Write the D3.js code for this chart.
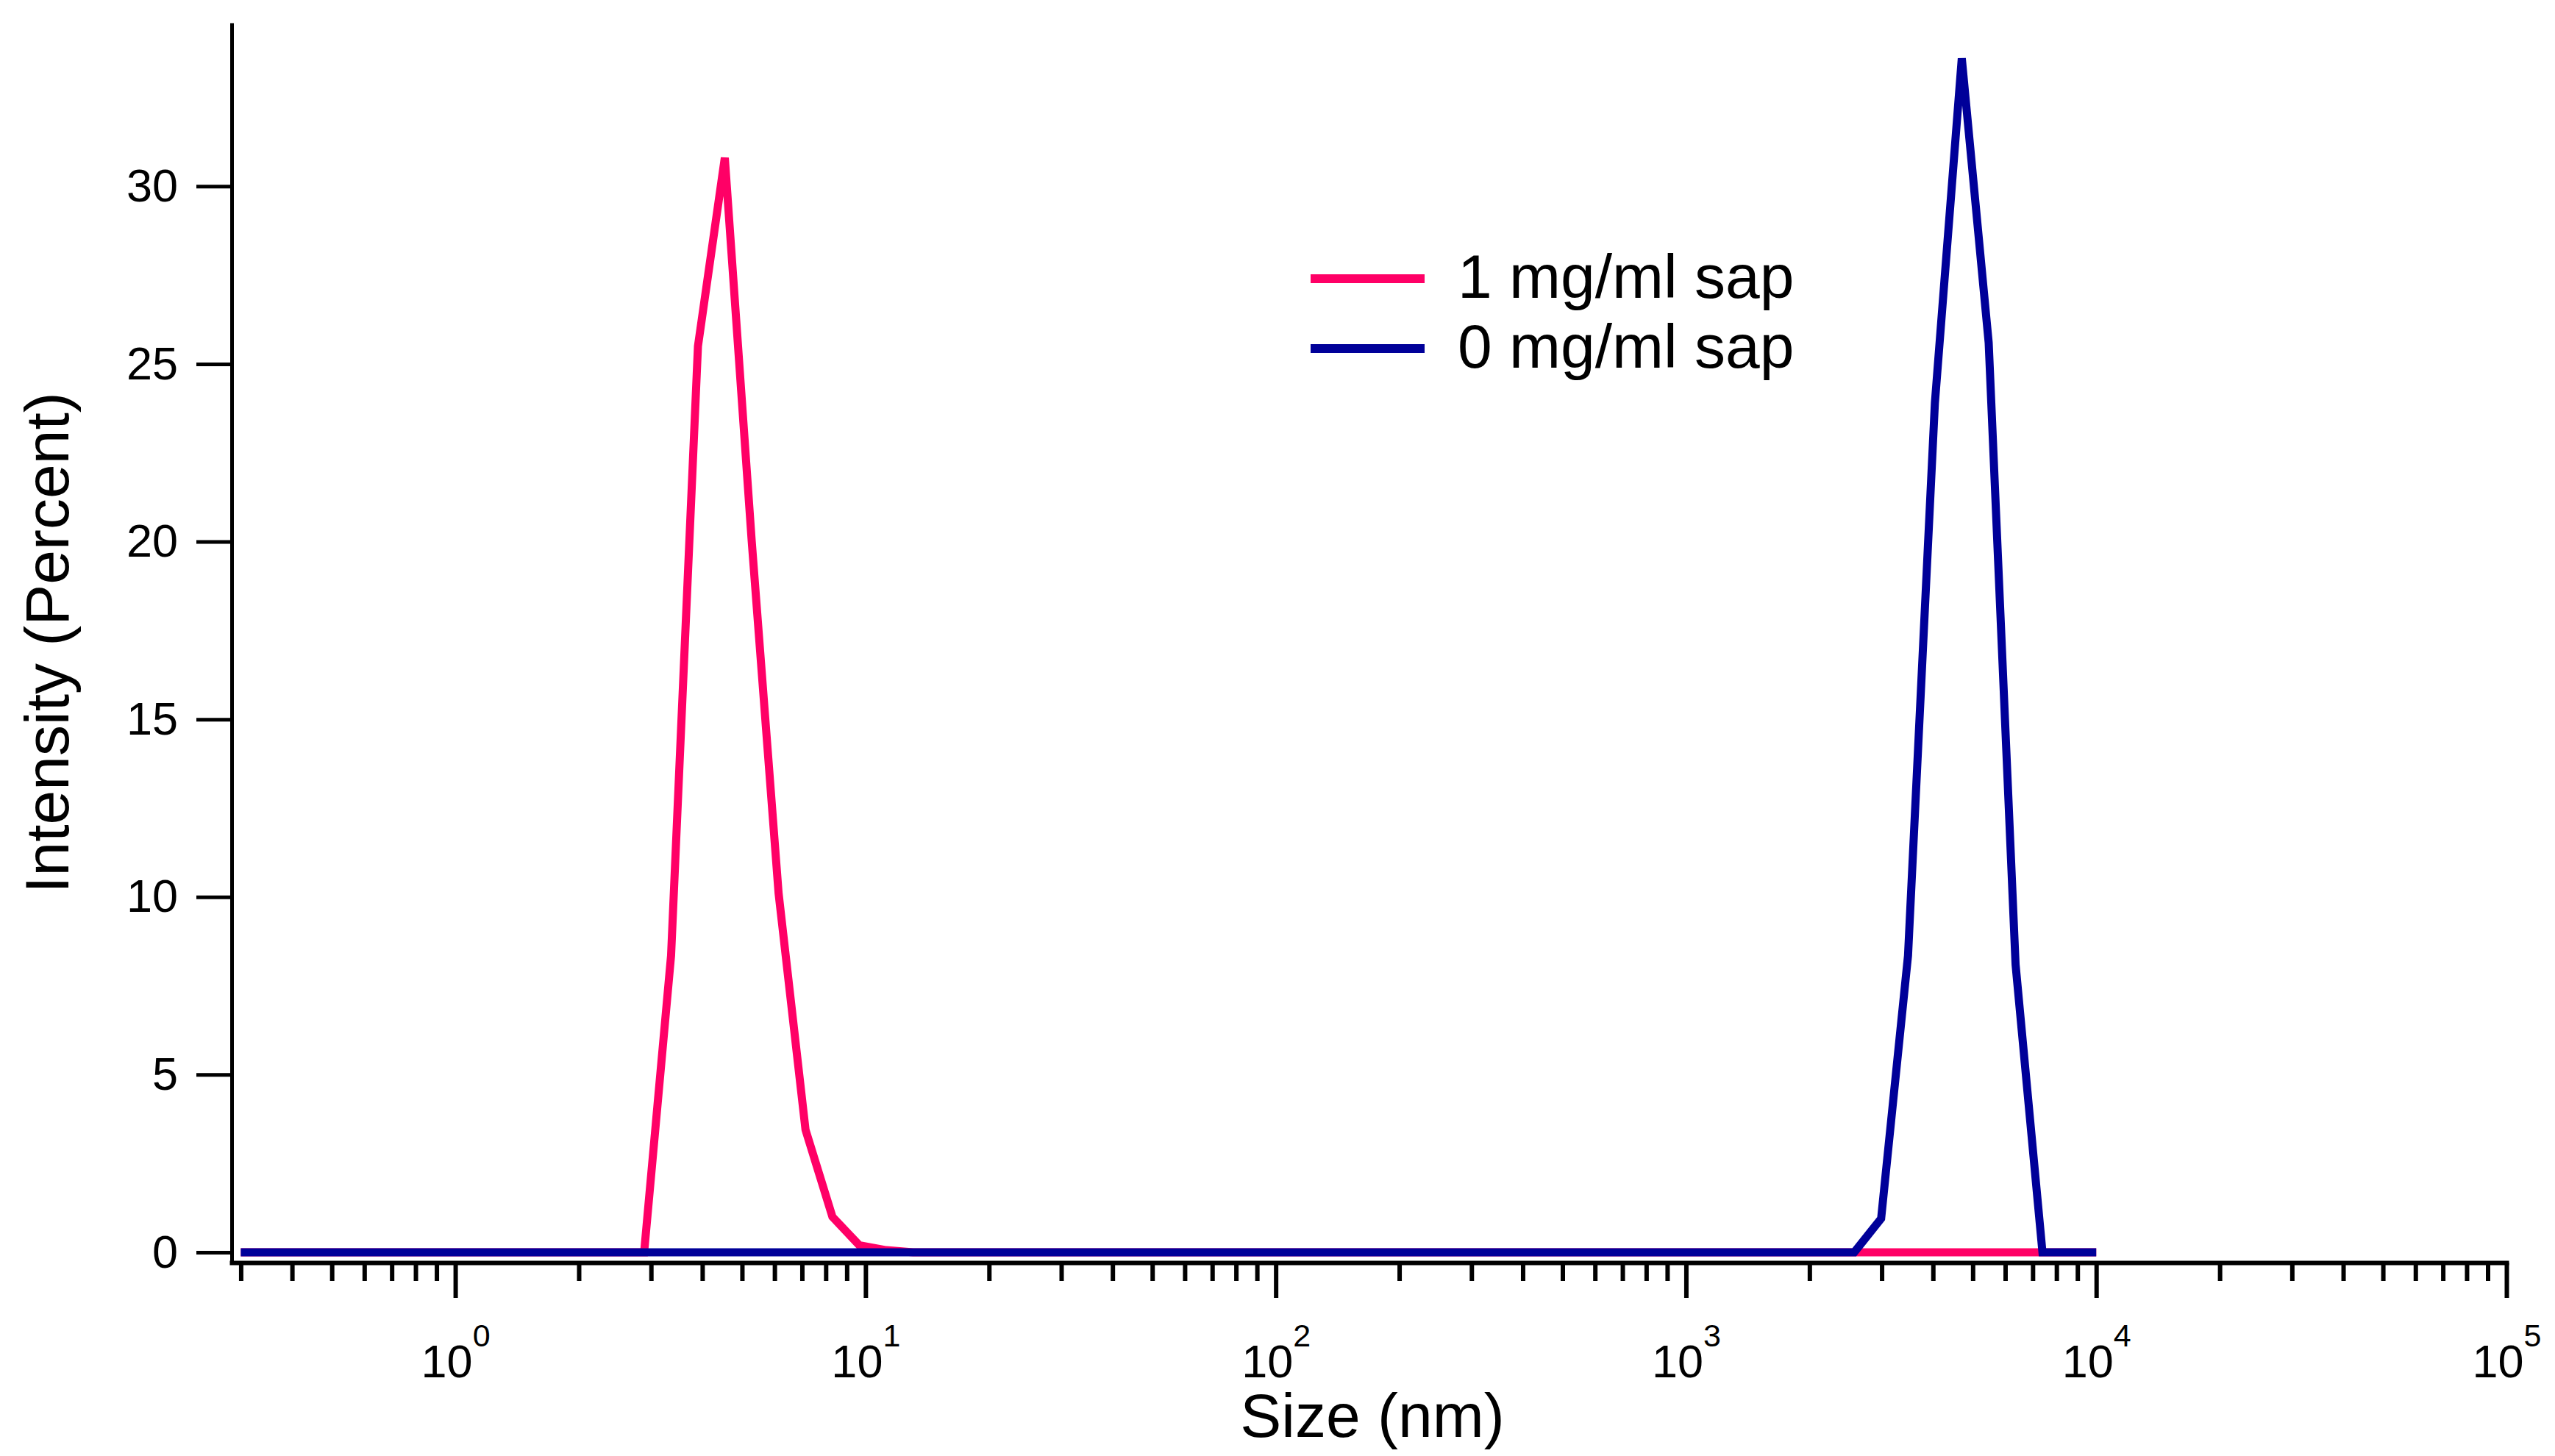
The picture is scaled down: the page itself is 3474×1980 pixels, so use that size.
<!DOCTYPE html>
<html>
<head>
<meta charset="utf-8">
<script src="https://cdn.jsdelivr.net/npm/d3@7"></script>
<style>
    html, body { margin: 0; padding: 0; background: #ffffff; }
    text { font-family: "Liberation Sans", Arial, Helvetica, sans-serif; fill: #000000; }
</style>
</head>
<body>
<div id="chart"></div>
<script>
// size bins (nm)
const sizes = [
    0.3000, 0.3487, 0.4055, 0.4716, 0.5486, 0.6378, 0.7420, 0.8628, 1.0035, 1.167,
    1.357, 1.578, 1.835, 2.134, 2.482, 2.886, 3.357, 3.904, 4.539, 5.280,
    6.139, 7.140, 8.303, 9.654, 11.23, 13.06, 15.19, 17.66, 20.53, 23.88,
    27.77, 32.29, 37.55, 43.67, 50.79, 59.07, 68.69, 79.88, 92.90, 108.0,
    125.6, 146.1, 169.9, 197.6, 229.8, 267.2, 310.8, 361.4, 420.3, 488.7,
    568.4, 661.0, 768.7, 893.9, 1040, 1209, 1406, 1635, 1901, 2211,
    2571, 2990, 3477, 4043, 4702, 5468, 6359, 7395, 8600, 10000
];

// intensity (%) 1 mg/ml sap
const sap1 = [
    0, 0, 0, 0, 0, 0, 0, 0, 0, 0,
    0, 0, 0, 0, 0, 0, 8.35, 25.5, 30.8, 20.0,
    10.1, 3.45, 1.0, 0.2, 0.06, 0, 0, 0, 0, 0,
    0, 0, 0, 0, 0, 0, 0, 0, 0, 0,
    0, 0, 0, 0, 0, 0, 0, 0, 0, 0,
    0, 0, 0, 0, 0, 0, 0, 0, 0, 0,
    0, 0, 0, 0, 0, 0, 0, 0, 0, 0
];

// intensity (%) 0 mg/ml sap
const sap0 = [
    0, 0, 0, 0, 0, 0, 0, 0, 0, 0,
    0, 0, 0, 0, 0, 0, 0, 0, 0, 0,
    0, 0, 0, 0, 0, 0, 0, 0, 0, 0,
    0, 0, 0, 0, 0, 0, 0, 0, 0, 0,
    0, 0, 0, 0, 0, 0, 0, 0, 0, 0,
    0, 0, 0, 0, 0, 0, 0, 0, 0, 0,
    0, 0.95, 8.35, 23.9, 33.6, 25.6, 8.1, 0, 0, 0
];

const seriesNames = ['1 mg/ml sap', '0 mg/ml sap'];
const seriesColors = ['#ff0066', '#000099'];
const yTicks = [0, 5, 10, 15, 20, 25, 30];
const xMajorTicks = [1, 10, 100, 1000, 10000, 100000];
const xExponents = ['0', '1', '2', '3', '4', '5'];

const width = 3474;
const height = 1980;

const svg = d3.select('#chart').append('svg')
    .attr('width', width)
    .attr('height', height);

const x = d3.scaleLog().domain([0.285, 1e5]).range([315, 3408]);
const y = d3.scaleLinear().domain([-0.29, 34.6]).range([1717, 31]);

// minor ticks: 2..9 of each decade inside the domain
const xMinorTicks = x.ticks().filter(function (t) {
    return xMajorTicks.indexOf(t) < 0;
});

const xAxisG = svg.append('g').attr('transform', 'translate(0,1717)');

xAxisG.append('g')
    .call(d3.axisBottom(x).tickValues(xMinorTicks).tickSize(25).tickSizeOuter(0).tickFormat(''))
    .call(function (g) { g.select('.domain').remove(); });

const xMajor = xAxisG.append('g')
    .call(d3.axisBottom(x).tickValues(xMajorTicks).tickSize(48).tickSizeOuter(0).tickFormat(''));

xMajor.selectAll('.tick text').remove();
xMajor.selectAll('.tick').each(function (d, i) {
    const t = d3.select(this).append('text')
        .attr('y', 156)
        .attr('text-anchor', 'middle')
        .style('font-size', '63px');
    t.append('tspan').text('10');
    t.append('tspan')
        .attr('dy', -42)
        .style('font-size', '43px')
        .text(xExponents[i]);
});

xAxisG.selectAll('line').attr('stroke', '#000').attr('stroke-width', 6);
xAxisG.selectAll('.domain').attr('stroke', '#000').attr('stroke-width', 6).attr('stroke-linecap', 'square');

const yAxisG = svg.append('g')
    .attr('transform', 'translate(315,0)')
    .call(d3.axisLeft(y).tickValues(yTicks).tickSize(48).tickSizeOuter(0).tickPadding(25));

yAxisG.selectAll('line').attr('stroke', '#000').attr('stroke-width', 5);
yAxisG.select('.domain').attr('stroke', '#000').attr('stroke-width', 5);
yAxisG.selectAll('.tick text')
    .attr('fill', '#000')
    .style('font-size', '63px')
    .style('font-family', '"Liberation Sans", Arial, Helvetica, sans-serif');

// axis titles
svg.append('text')
    .attr('transform', 'translate(93,874) rotate(-90)')
    .attr('text-anchor', 'middle')
    .style('font-size', '84px')
    .text('Intensity (Percent)');

svg.append('text')
    .attr('x', 1866)
    .attr('y', 1954)
    .attr('text-anchor', 'middle')
    .style('font-size', '84px')
    .text('Size (nm)');

// series
const line = d3.line()
    .x(function (d) { return x(d[0]); })
    .y(function (d) { return y(d[1]); });

const series = [sap1, sap0].map(function (vals) {
    return sizes.map(function (s, i) { return [s, vals[i]]; });
});

svg.selectAll('path.series')
    .data(series)
    .enter()
    .append('path')
    .attr('class', 'series')
    .attr('d', line)
    .attr('fill', 'none')
    .attr('stroke', function (d, i) { return seriesColors[i]; })
    .attr('stroke-width', 11)
    .attr('stroke-linejoin', 'miter');

// legend
const legend = svg.append('g');
seriesNames.forEach(function (name, i) {
    const ly = 379 + i * 95;
    legend.append('line')
        .attr('x1', 1782).attr('x2', 1937)
        .attr('y1', ly).attr('y2', ly)
        .attr('stroke', seriesColors[i])
        .attr('stroke-width', 12);
    legend.append('text')
        .attr('x', 1982)
        .attr('y', ly + 26)
        .style('font-size', '84px')
        .text(name);
});
</script>
</body>
</html>
